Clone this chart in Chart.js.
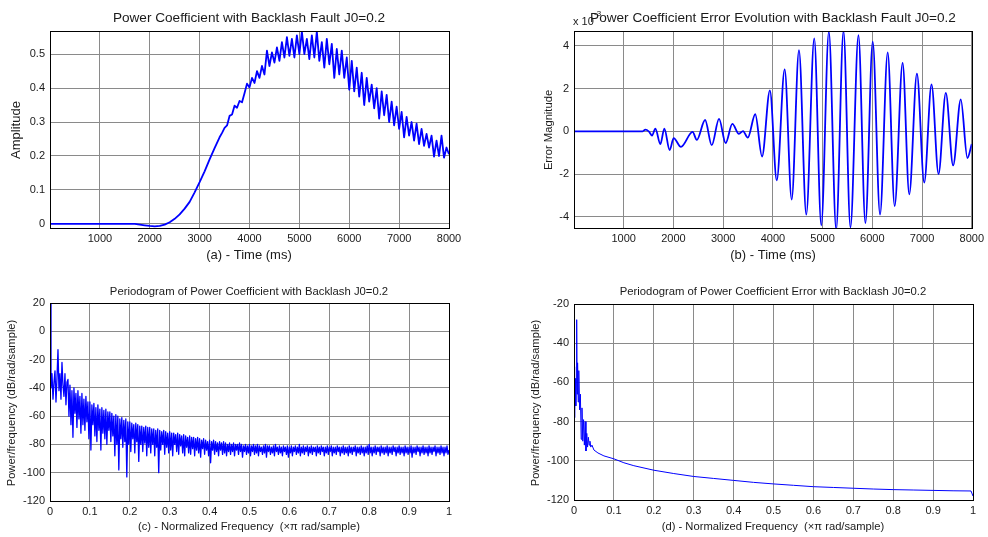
<!DOCTYPE html>
<html>
<head>
<meta charset="utf-8">
<script src="https://cdn.jsdelivr.net/npm/chart.js@4.4.1/dist/chart.umd.min.js"></script>
<style>
  html, body { margin: 0; padding: 0; background: #ffffff; }
  #wrap { position: relative; width: 988px; height: 537px; overflow: hidden; background: #ffffff; }
  .panel { position: absolute; }
</style>
</head>
<body>
<div id="wrap">
  <canvas id="panelA" class="panel" width="494" height="270" style="left:0px;top:0px"></canvas>
  <canvas id="panelB" class="panel" width="494" height="270" style="left:494px;top:0px"></canvas>
  <canvas id="panelC" class="panel" width="494" height="267" style="left:0px;top:270px"></canvas>
  <canvas id="panelD" class="panel" width="494" height="267" style="left:494px;top:270px"></canvas>
</div>
<script>
// ---------- (a) power coefficient, time in ms ----------
const timeA = [0, 500, 1000, 1500, 1700, 1800, 1900, 2000, 2100, 2200, 2300, 2400, 2500, 2600, 2700, 2800, 2900, 3000, 3100, 3200, 3300,
  3400, 3450, 3500, 3550, 3600, 3650, 3700, 3750, 3800, 3850, 3900, 3950, 4000,
  4050, 4100, 4150, 4200, 4250, 4300, 4350, 4400, 4450, 4500, 4550, 4600, 4650, 4700, 4750, 4800, 4850, 4900, 4950, 5000,
  5050, 5100, 5150, 5200, 5250, 5300, 5350, 5400, 5450, 5500, 5550, 5600, 5650, 5700, 5750, 5800, 5850, 5900, 5950, 6000,
  6050, 6100, 6150, 6200, 6250, 6300, 6350, 6400, 6450, 6500, 6550, 6600, 6650, 6700, 6750, 6800, 6850, 6900, 6950, 7000,
  7050, 7100, 7150, 7200, 7250, 7300, 7350, 7400, 7450, 7500, 7550, 7600, 7650, 7700, 7750, 7800, 7850, 7900, 7950, 8000];
const powerA = [0, 0, 0, 0, 0, -0.002, -0.004, -0.006, -0.007, -0.006, -0.002, 0.005, 0.015, 0.028, 0.045, 0.065, 0.093, 0.123, 0.155, 0.19, 0.223,
  0.255, 0.268, 0.283, 0.29, 0.318, 0.322, 0.348, 0.342, 0.362, 0.358, 0.385, 0.413, 0.402,
  0.43, 0.415, 0.45, 0.43, 0.465, 0.44, 0.51, 0.465, 0.505, 0.475, 0.52, 0.48, 0.535, 0.49, 0.55, 0.495, 0.545, 0.49, 0.555, 0.5,
  0.566, 0.5, 0.545, 0.485, 0.555, 0.49, 0.566, 0.48, 0.535, 0.46, 0.545, 0.47, 0.53, 0.43, 0.515, 0.44, 0.51, 0.43, 0.49, 0.395,
  0.48, 0.39, 0.46, 0.375, 0.445, 0.35, 0.43, 0.36, 0.41, 0.34, 0.4, 0.31, 0.39, 0.32, 0.38, 0.3, 0.36, 0.29, 0.345, 0.28,
  0.33, 0.255, 0.315, 0.26, 0.3, 0.245, 0.295, 0.235, 0.28, 0.23, 0.265, 0.225, 0.26, 0.198, 0.245, 0.2, 0.26, 0.195, 0.225, 0.205];
const xTicksA = [1000, 2000, 3000, 4000, 5000, 6000, 7000, 8000];
const yTicksA = [0, 0.1, 0.2, 0.3, 0.4, 0.5];
const yLabelsA = ['0', '0.1', '0.2', '0.3', '0.4', '0.5'];

// ---------- (b) power coefficient error (x 10^-3), time in ms ----------
const timeB = [0, 1380, 1436, 1503, 1570, 1637, 1737, 1817, 1924, 2004, 2151, 2385, 2470, 2637, 2770, 2917, 3050, 3184, 3317, 3400, 3495,
  3645, 3782, 3940, 4078, 4237, 4378, 4525, 4672, 4832, 4973, 5126, 5273, 5420, 5560, 5721, 5861, 6008, 6155, 6309, 6449,
  6609, 6743, 6897, 7044, 7191, 7331, 7478, 7625, 7779, 7912, 8000];
const errorB = [0, 0, 0.08, 0.0, -0.2, 0.13, -0.6, 0.13, -0.88, -0.32, -0.73, -0.03, -0.4, 0.53, -0.65, 0.58, -0.55, 0.35, -0.12, 0.01, -0.3,
  0.8, -1.18, 1.92, -2.3, 2.9, -3.2, 3.8, -3.9, 4.35, -4.4, 4.67, -4.6, 4.7, -4.5, 4.5, -4.3, 4.2, -3.9, 3.7, -3.5,
  3.2, -2.95, 2.7, -2.4, 2.2, -2.0, 1.8, -1.6, 1.5, -1.25, -0.6];
const xTicksB = [1000, 2000, 3000, 4000, 5000, 6000, 7000, 8000];
const yTicksB = [-4, -2, 0, 2, 4];

// ---------- (c) periodogram of power coefficient, dB/rad/sample, bins of 0.0025 ----------
const binStepC = 0.0025;
const psdC = [
  20, -40, -30, -48, -36, -28, -50, -33, -13, -42, -30, -48, -22, -38, -46, -30, -52, -36, -34, -60,
  -38, -66, -42, -75, -40, -58, -44, -68, -42, -62, -46, -72, -44, -66, -48, -70, -46, -64, -50, -76,
  -50, -84, -52, -66, -51, -74, -54, -78, -52, -70, -55, -84, -54, -72, -56, -76, -55, -80, -57, -70,
  -57, -78, -58, -74, -60, -88, -59, -80, -60, -98, -62, -76, -61, -82, -63, -78, -62, -103, -64, -80,
  -64, -85, -65, -76, -66, -86, -65, -78, -66, -92, -67, -80, -67, -85, -68, -79, -67, -88, -68, -82,
  -68, -86, -69, -80, -69, -88, -70, -82, -69, -100, -70, -84, -71, -80, -70, -87, -71, -82, -72, -86,
  -71, -84, -72, -88, -72, -80, -73, -85, -72, -87, -73, -81, -74, -86, -73, -88, -74, -82, -75, -86,
  -74, -87, -75, -83, -75, -88, -76, -84, -75, -86, -76, -89, -77, -83, -76, -87, -77, -84, -78, -88,
  -77, -93, -78, -84, -77, -87, -78, -85, -79, -88, -78, -84, -79, -87, -78, -86, -79, -88, -80, -85,
  -79, -87, -80, -85, -79, -88, -80, -84, -80, -87, -79, -85, -80, -89, -81, -85, -80, -87, -81, -86,
  -80, -88, -81, -85, -80, -87, -81, -86, -80, -88, -81, -85, -82, -87, -81, -86, -80, -89, -81, -85,
  -81, -87, -82, -86, -81, -88, -80, -85, -82, -87, -81, -86, -82, -88, -81, -85, -82, -87, -81, -89,
  -82, -86, -81, -88, -82, -85, -81, -87, -82, -86, -80, -88, -82, -86, -81, -87, -82, -85, -81, -88,
  -82, -86, -81, -87, -82, -85, -82, -88, -81, -86, -82, -87, -81, -85, -82, -88, -82, -86, -81, -87,
  -82, -85, -81, -88, -82, -86, -82, -87, -81, -85, -82, -88, -82, -86, -81, -87, -82, -86, -82, -88,
  -81, -86, -82, -87, -82, -85, -81, -88, -82, -86, -82, -87, -81, -86, -82, -88, -82, -86, -81, -87,
  -80, -86, -82, -88, -82, -86, -81, -87, -82, -85, -82, -88, -81, -86, -82, -87, -82, -86, -81, -88,
  -82, -86, -82, -87, -81, -85, -82, -88, -82, -86, -81, -87, -82, -86, -82, -88, -81, -86, -82, -87,
  -82, -86, -81, -89, -82, -86, -82, -87, -81, -85, -82, -88, -82, -86, -81, -87, -82, -86, -82, -88,
  -81, -86, -82, -87, -82, -85, -81, -88, -82, -86, -82, -87, -81, -86, -82, -88, -82, -86, -81, -87,
  -84];
const freqC = psdC.map((_, i) => +(i * binStepC).toFixed(4));
const freqTicks = [0, 0.1, 0.2, 0.3, 0.4, 0.5, 0.6, 0.7, 0.8, 0.9, 1];
const freqLabels = ['0', '0.1', '0.2', '0.3', '0.4', '0.5', '0.6', '0.7', '0.8', '0.9', '1'];
const yTicksC = [-120, -100, -80, -60, -40, -20, 0, 20];

// ---------- (d) periodogram of power coefficient error, dB/rad/sample ----------
const freqD = [0, 0.0015, 0.003, 0.0045, 0.0058, 0.0067, 0.0078, 0.009, 0.0105, 0.012, 0.014, 0.016, 0.018, 0.02, 0.022, 0.024, 0.026,
  0.028, 0.03, 0.032, 0.034, 0.036, 0.038, 0.04, 0.042, 0.045, 0.05, 0.06, 0.075, 0.1, 0.125, 0.15, 0.2, 0.25, 0.3, 0.35,
  0.4, 0.45, 0.5, 0.55, 0.6, 0.65, 0.7, 0.75, 0.8, 0.85, 0.9, 0.95, 0.995, 1];
const psdD = [-52, -78, -58, -72, -60, -28, -66, -50, -70, -54, -74, -66, -89, -73, -90, -79, -92,
  -80, -95, -86, -93, -88, -92, -90, -93, -92, -94.5, -96, -97.5, -99, -101, -102.5, -104.8, -106.5, -108, -109,
  -110, -111, -111.8, -112.5, -113.2, -113.6, -114, -114.4, -114.7, -114.9, -115.1, -115.3, -115.4, -118];
const yTicksD = [-120, -100, -80, -60, -40, -20];

const FONT = '"Liberation Sans", Arial, Helvetica, sans-serif';
const TEXT = '#1a1a1a';
const GRID = '#8a8a8a';

// frame box and free text (titles, axis names) drawn on top of the plot
const frameText = {
  id: 'frameText',
  afterDatasetsDraw(chart, args, opts) {
    const { ctx, chartArea: a } = chart;
    ctx.save();
    ctx.strokeStyle = '#000000';
    ctx.lineWidth = 1;
    const l = Math.round(a.left) + 0.5, t = Math.round(a.top) + 0.5;
    ctx.strokeRect(l, t, Math.round(a.right) - Math.round(a.left), Math.round(a.bottom) - Math.round(a.top));
    ctx.fillStyle = TEXT;
    for (const it of (opts.items || [])) {
      ctx.font = it.size + 'px ' + FONT;
      ctx.textAlign = it.align || 'center';
      ctx.textBaseline = it.baseline || 'middle';
      ctx.save();
      ctx.translate(it.x, it.y);
      if (it.rot) ctx.rotate(-Math.PI / 2);
      ctx.fillText(it.text, 0, 0);
      ctx.restore();
    }
    ctx.restore();
  }
};

function makePanel(id, p) {
  const pts = p.xs.map((x, i) => ({ x: x, y: p.ys[i] }));
  return new Chart(document.getElementById(id), {
    type: 'line',
    data: {
      datasets: [{
        data: pts,
        borderColor: '#0000ff',
        borderWidth: p.lineWidth,
        pointRadius: 0,
        fill: false,
        tension: 0,
        cubicInterpolationMode: p.smooth ? 'monotone' : 'default',
        borderJoinStyle: 'round'
      }]
    },
    options: {
      responsive: false,
      animation: false,
      devicePixelRatio: 1,
      layout: { padding: p.padding },
      plugins: {
        legend: { display: false },
        tooltip: { enabled: false },
        title: { display: false },
        frameText: { items: p.texts }
      },
      scales: {
        x: {
          type: 'linear',
          min: p.xMin, max: p.xMax,
          afterFit: s => { s.height = p.xHeight; },
          afterBuildTicks: s => { s.ticks = p.xTicks.map(v => ({ value: v })); },
          ticks: {
            autoSkip: false, maxRotation: 0, padding: 4,
            color: TEXT, font: { family: FONT, size: 11 },
            callback: (v, i) => p.xLabels[i]
          },
          grid: { color: GRID, lineWidth: 1, drawTicks: false },
          border: { display: false }
        },
        y: {
          type: 'linear',
          min: p.yMin, max: p.yMax,
          afterFit: s => { s.width = p.yWidth; },
          afterBuildTicks: s => { s.ticks = p.yTicks.map(v => ({ value: v })); },
          ticks: {
            autoSkip: false, padding: 5,
            color: TEXT, font: { family: FONT, size: 11 },
            callback: (v, i) => p.yLabels[i]
          },
          grid: { color: GRID, lineWidth: 1, drawTicks: false },
          border: { display: false }
        }
      }
    },
    plugins: [frameText]
  });
}

makePanel('panelA', {
  xs: timeA, ys: powerA, lineWidth: 1.8, smooth: false,
  xMin: 0, xMax: 8000, yMin: -0.012, yMax: 0.568,
  xTicks: xTicksA, xLabels: xTicksA.map(String),
  yTicks: yTicksA, yLabels: yLabelsA,
  padding: { left: 0, top: 31, right: 45, bottom: 0 },
  yWidth: 50, xHeight: 42,
  texts: [
    { text: 'Power Coefficient with Backlash Fault J0=0.2', x: 249, y: 18, size: 13.6 },
    { text: '(a) - Time (ms)', x: 249, y: 255, size: 13 },
    { text: 'Amplitude', x: 16, y: 130, size: 13, rot: true }
  ]
});

makePanel('panelB', {
  xs: timeB, ys: errorB, lineWidth: 1.8, smooth: true,
  xMin: 0, xMax: 8000, yMin: -4.53, yMax: 4.70,
  xTicks: xTicksB, xLabels: xTicksB.map(String),
  yTicks: yTicksB, yLabels: yTicksB.map(String),
  padding: { left: 0, top: 31, right: 15, bottom: 0 },
  yWidth: 80, xHeight: 42,
  texts: [
    { text: 'x 10', x: 79, y: 22, size: 11, align: 'left' },
    { text: '-3', x: 100, y: 14, size: 8, align: 'left' },
    { text: 'Power Coefficient Error Evolution with Backlash Fault J0=0.2', x: 279, y: 18, size: 13.6 },
    { text: '(b) - Time (ms)', x: 279, y: 255, size: 13 },
    { text: 'Error Magnitude', x: 55, y: 130, size: 11.2, rot: true }
  ]
});

makePanel('panelC', {
  xs: freqC, ys: psdC, lineWidth: 1.3, smooth: false,
  xMin: 0, xMax: 1, yMin: -120, yMax: 20,
  xTicks: freqTicks, xLabels: freqLabels,
  yTicks: yTicksC, yLabels: yTicksC.map(String),
  padding: { left: 0, top: 33, right: 45, bottom: 0 },
  yWidth: 50, xHeight: 36,
  texts: [
    { text: 'Periodogram of Power Coefficient with Backlash J0=0.2', x: 249, y: 22, size: 11.3 },
    { text: '(c) - Normalized Frequency  (\u00d7\u03c0 rad/sample)', x: 249, y: 257, size: 11.2 },
    { text: 'Power/frequency (dB/rad/sample)', x: 12, y: 133, size: 11.2, rot: true }
  ]
});

makePanel('panelD', {
  xs: freqD, ys: psdD, lineWidth: 1, smooth: false,
  xMin: 0, xMax: 1, yMin: -120, yMax: -20,
  xTicks: freqTicks, xLabels: freqLabels,
  yTicks: yTicksD, yLabels: yTicksD.map(String),
  padding: { left: 0, top: 34, right: 15, bottom: 0 },
  yWidth: 80, xHeight: 37,
  texts: [
    { text: 'Periodogram of Power Coefficient Error with Backlash J0=0.2', x: 279, y: 22, size: 11.3 },
    { text: '(d) - Normalized Frequency  (\u00d7\u03c0 rad/sample)', x: 279, y: 257, size: 11.2 },
    { text: 'Power/frequency (dB/rad/sample)', x: 42, y: 133, size: 11.2, rot: true }
  ]
});
</script>
</body>
</html>
